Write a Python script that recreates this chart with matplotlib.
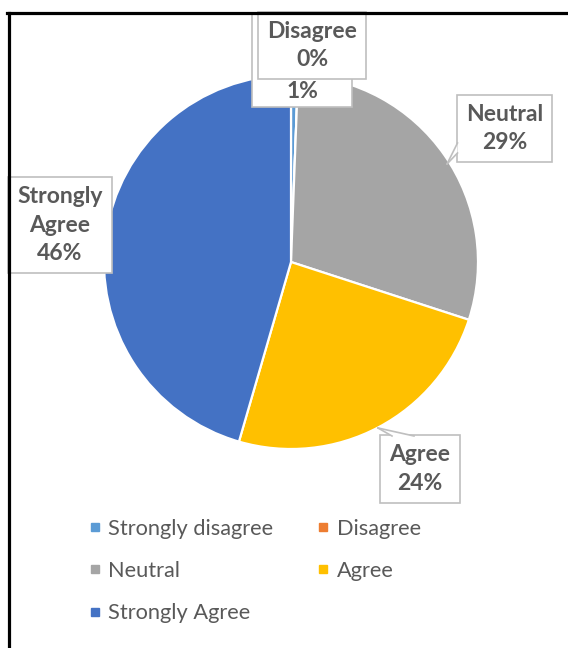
import matplotlib
matplotlib.use("Agg")
import matplotlib.pyplot as plt
from matplotlib.lines import Line2D
from matplotlib.patches import Polygon, Rectangle

categories = ["Strongly disagree", "Disagree", "Neutral", "Agree", "Strongly Agree"]
values = [0.6, 0.0, 29.4, 24.49, 45.51]
colors = ["#5B9BD5", "#ED7D31", "#A5A5A5", "#FFC000", "#4472C4"]
label_names = ["", "Disagree", "Neutral", "Agree", "Strongly\nAgree"]

W, H = 568, 648
fig = plt.figure(figsize=(W / 100, H / 100), dpi=100)
fig.patch.set_facecolor("white")

cx, cy, R = 291, 262, 187
ax = fig.add_axes([(cx - R) / W, (H - cy - R) / H, 2 * R / W, 2 * R / H])
wedges, _ = ax.pie(values, colors=colors, startangle=90, counterclock=False,
                   radius=1.0, wedgeprops=dict(edgecolor="white", linewidth=1.6))
ax.set_xlim(-1, 1)
ax.set_ylim(-1, 1)
ax.set_aspect("auto")
ax.axis("off")

FONT = ["Lato", "DejaVu Sans"]
TXT = "#595959"
BOXC = "#BFBFBF"


def px(x, y):
    return ((x - cx) / R, (cy - y) / R)


def label(i, x, y, z=5, box=True):
    name = label_names[i]
    txt = f"{name}\n{values[i]:.0f}%" if name else f"{values[i]:.0f}%"
    bb = dict(boxstyle="square,pad=0.4", fc="white", ec=BOXC, lw=1.2) if box else None
    ax.text(*px(x, y), txt, ha="center", va="center", fontsize=16.5,
            fontweight="bold", color=TXT, family=FONT, linespacing=1.42,
            clip_on=False, zorder=z, bbox=bb)


# Strongly disagree label: box mostly hidden under Disagree label
x0, y0 = px(252, 107)
x1, y1 = px(352, 13)
ax.add_patch(Rectangle((x0, y0), x1 - x0, y1 - y0, fc="white", ec=BOXC, lw=1.2,
                       zorder=4, clip_on=False))
label(0, 302, 91, z=4, box=False)
label(1, 312, 45.5, z=6)
label(2, 504.5, 128.5)
label(3, 420, 469)
label(4, 60, 225)


def tail(pts):
    p = [px(x, y) for x, y in pts]
    ax.add_patch(Polygon(p, closed=True, fc="white", ec="none", zorder=7, clip_on=False))
    ax.add_line(Line2D([p[0][0], p[1][0]], [p[0][1], p[1][1]], color=BOXC, lw=1.2, zorder=8, clip_on=False))
    ax.add_line(Line2D([p[1][0], p[2][0]], [p[1][1], p[2][1]], color=BOXC, lw=1.2, zorder=8, clip_on=False))


tail([(457.5, 143), (447, 164), (457.5, 153)])
tail([(392, 436), (378, 428), (414, 436)])

# legend
handles = [Line2D([], [], marker="s", ls="none", markersize=6, color=c, label=n)
           for c, n in zip(colors, categories)]
order = [0, 2, 4, 1, 3]
leg = fig.legend([handles[i] for i in order], [categories[i] for i in order],
                 loc="upper left", bbox_to_anchor=(80 / W, 1 - 510 / H), ncol=2,
                 frameon=False, handlelength=0.55, handletextpad=0.35,
                 columnspacing=2.0, labelspacing=1.02, borderaxespad=0,
                 prop=dict(family=FONT, size=15.7))
for t in leg.get_texts():
    t.set_color(TXT)

# outer frame lines (top and left)
fig.add_artist(Line2D([7 / W, 1], [1 - 13 / H, 1 - 13 / H], color="black", lw=2.3,
                      transform=fig.transFigure, zorder=20))
fig.add_artist(Line2D([8.5 / W, 8.5 / W], [0, 1 - 13 / H], color="black", lw=2.3,
                      transform=fig.transFigure, zorder=20))

fig.savefig("out.png", dpi=100, facecolor="white")
